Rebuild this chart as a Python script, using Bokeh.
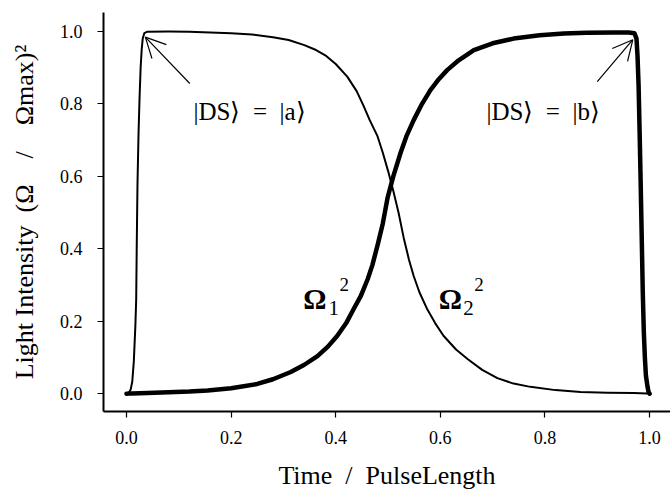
from bokeh.plotting import figure
from bokeh.models import Range1d, FixedTicker, PrintfTickFormatter, Arrow, OpenHead
from bokeh.core.properties import value
from bokeh.embed import file_html
from bokeh.resources import INLINE

# ---- data ----
time_omega2 = [0.0, 0.004, 0.008, 0.011, 0.014, 0.017, 0.0185, 0.0195, 0.021, 0.023, 0.025,
               0.027, 0.029, 0.031, 0.034, 0.04, 0.08, 0.12, 0.16, 0.20, 0.24, 0.28, 0.31,
               0.34, 0.36, 0.38, 0.40, 0.422, 0.44, 0.453, 0.465, 0.48, 0.49, 0.50, 0.51,
               0.52, 0.53, 0.54, 0.549, 0.56, 0.575, 0.59, 0.606, 0.63, 0.652, 0.68, 0.709,
               0.74, 0.772, 0.82, 0.868, 0.92, 0.97, 0.995, 1.0]
omega2_sq = [0.0, 0.002, 0.012, 0.033, 0.09, 0.19, 0.26, 0.40, 0.58, 0.72, 0.82,
             0.90, 0.95, 0.98, 0.995, 0.999, 0.9995, 0.999, 0.997, 0.995, 0.991, 0.984, 0.976,
             0.962, 0.95, 0.934, 0.91, 0.875, 0.835, 0.795, 0.755, 0.71, 0.665, 0.615, 0.56,
             0.50, 0.43, 0.37, 0.325, 0.28, 0.233, 0.195, 0.16, 0.122, 0.096, 0.066, 0.043,
             0.028, 0.019, 0.010, 0.005, 0.003, 0.002, 0.001, 0.0]

time_omega1 = [0.0, 0.01, 0.04, 0.08, 0.12, 0.155, 0.20, 0.25, 0.28, 0.314, 0.34, 0.365,
               0.385, 0.403, 0.42, 0.434, 0.448, 0.461, 0.47, 0.48, 0.49, 0.499, 0.51, 0.524,
               0.535, 0.549, 0.565, 0.581, 0.597, 0.613, 0.635, 0.664, 0.70, 0.74, 0.79,
               0.836, 0.88, 0.931, 0.96, 0.971, 0.975, 0.977, 0.979, 0.981, 0.983, 0.985,
               0.987, 0.989, 0.991, 0.993, 0.996, 0.998, 1.0]
omega1_sq = [0.0, 0.001, 0.002, 0.004, 0.006, 0.009, 0.015, 0.027, 0.04, 0.06, 0.08, 0.104,
             0.13, 0.16, 0.195, 0.233, 0.27, 0.316, 0.355, 0.41, 0.47, 0.54, 0.60, 0.665,
             0.71, 0.755, 0.80, 0.838, 0.868, 0.893, 0.92, 0.948, 0.967, 0.98, 0.989,
             0.994, 0.996, 0.997, 0.997, 0.995, 0.98, 0.93, 0.85, 0.72, 0.58, 0.43,
             0.28, 0.17, 0.10, 0.05, 0.02, 0.005, 0.0]

x_ticks = [0.0, 0.2, 0.4, 0.6, 0.8, 1.0]
y_ticks = [0.0, 0.2, 0.4, 0.6, 0.8, 1.0]

state_labels = ["|DS\u27e9\u2002=\u2002|a\u27e9", "|DS\u27e9\u2002=\u2002|b\u27e9"]
state_label_x = [0.128, 0.688]
state_label_y = [0.778, 0.778]
arrow_start = [(0.121, 0.856), (0.900, 0.861)]
arrow_end = [(0.036, 0.984), (0.968, 0.977)]

FONT = "Liberation Serif"

p = figure(width=670, height=492,
           x_range=Range1d(-0.044, 1.040), y_range=Range1d(-0.049, 1.052),
           output_backend="svg", toolbar_location=None,
           min_border_left=103, min_border_right=0, min_border_top=12, min_border_bottom=79)
p.grid.visible = False
p.outline_line_color = None
p.background_fill_color = "white"
p.border_fill_color = "white"

for ax in (p.xaxis[0], p.yaxis[0]):
    ax.axis_line_width = 2
    ax.axis_line_color = "black"
    ax.major_tick_in = 0
    ax.major_tick_out = 6
    ax.major_tick_line_width = 1.2
    ax.major_tick_line_color = "black"
    ax.minor_tick_line_color = None
    ax.major_label_text_font = FONT
    ax.major_label_text_font_size = "18px"
    ax.major_label_text_color = "black"
    ax.axis_label_text_font = FONT
    ax.axis_label_text_font_size = "26px"
    ax.axis_label_text_font_style = "normal"
    ax.axis_label_text_color = "black"
    ax.formatter = PrintfTickFormatter(format="%.1f")

p.xaxis.ticker = FixedTicker(ticks=x_ticks)
p.yaxis.ticker = FixedTicker(ticks=y_ticks)
p.xaxis.major_label_standoff = 13
p.yaxis.major_label_standoff = 15
p.xaxis.axis_label_standoff = 14
p.yaxis.axis_label_standoff = 18
p.xaxis.axis_label = "Time\u2002/\u2002PulseLength"
p.yaxis.axis_label = "Light Intensity\u2002(\u03a9\u2003/\u2003\u03a9max)\u00b2"

p.line(time_omega2, omega2_sq, line_width=2, line_color="black", line_cap="round", line_join="round")
p.line(time_omega1, omega1_sq, line_width=4.5, line_color="black", line_cap="round", line_join="round")

# state labels
p.text(x=state_label_x, y=state_label_y, text=state_labels,
       text_font=value(FONT), text_font_size="25px", text_color="black",
       text_align="left", text_baseline="alphabetic")

for (xs, ys), (xe, ye) in zip(arrow_start, arrow_end):
    p.add_layout(Arrow(end=OpenHead(size=20, line_width=1.2, line_color="black"),
                       x_start=xs, y_start=ys, x_end=xe, y_end=ye,
                       line_width=1.2, line_color="black"))

# curve labels  Omega_1^2 and Omega_2^2
p.text(x=[0.338, 0.597], y=[0.261, 0.261], text=["\u03a9", "\u03a9"],
       text_font=value(FONT), text_font_size="29px", text_font_style="bold",
       text_color="black", text_align="left", text_baseline="alphabetic")
p.text(x=[0.386, 0.644], y=[0.236, 0.236], text=["1", "2"],
       text_font=value(FONT), text_font_size="21px", text_color="black",
       text_align="left", text_baseline="alphabetic")
p.text(x=[0.407, 0.665], y=[0.302, 0.302], text=["2", "2"],
       text_font=value(FONT), text_font_size="19px", text_color="black",
       text_align="left", text_baseline="alphabetic")

open("out.html", "w").write(file_html(p, INLINE))
